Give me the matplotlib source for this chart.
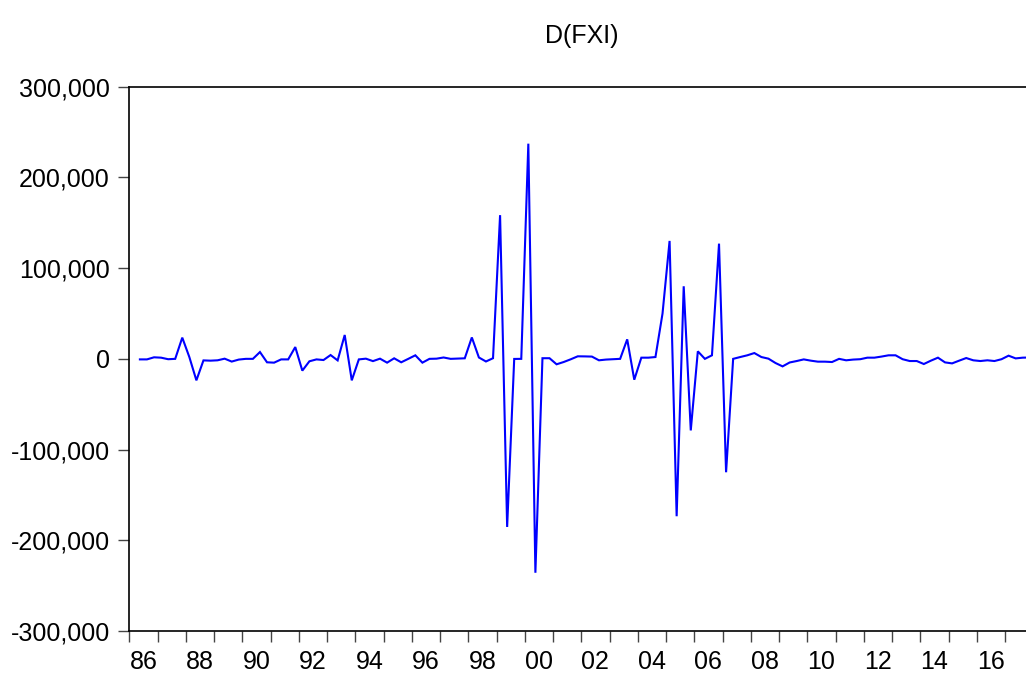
import matplotlib
matplotlib.use("Agg")
import matplotlib.pyplot as plt
from matplotlib.ticker import FuncFormatter, FixedLocator
import numpy as np

plt.rcParams['font.family'] = ['Liberation Sans', 'DejaVu Sans']

title = "D(FXI)"
start_year = 1986
start_quarter = 2  # first observation 1986Q2
# D(FXI), quarterly, in thousands
values_k = [
    -0.6, -0.6, 1.7,                                   # 1986 Q2-Q4
    1.3, -0.4, 0.0, 23.4,                              # 1987
    2.0, -23.7, -1.7, -2.0,                            # 1988
    -1.6, 0.2, -3.0, -0.8,                             # 1989
    0.0, 0.0, 7.5, -3.8,                               # 1990
    -4.2, -0.6, -0.6, 13.0,                            # 1991
    -13.0, -2.7, -0.6, -1.3,                           # 1992
    4.2, -1.7, 26.3, -23.7,                            # 1993
    -0.6, 0.2, -2.5, 0.2,                              # 1994
    -4.2, 0.6, -3.8, 0.0,                              # 1995
    3.9, -4.2, 0.0, 0.2,                               # 1996
    1.5, 0.0, 0.3, 0.6,                                # 1997
    23.6, 1.5, -2.9, 0.7,                              # 1998
    158.4, -185.3, -0.1, 0.0,                          # 1999
    237.2, -235.8, 0.7, 0.7,                           # 2000
    -6.0, -3.5, -0.5, 2.8,                             # 2001
    2.7, 2.5, -1.6, -0.8,                              # 2002
    -0.4, 0.0, 21.5, -23.0,                            # 2003
    1.3, 1.3, 2.0, 49.9,                               # 2004
    130.0, -173.5, 80.0, -78.9,                        # 2005
    8.3, 0.0, 3.9, 127.0,                              # 2006
    -125.0, 0.0, 2.0, 3.9,                             # 2007
    6.4, 2.0, 0.2, -4.6,                               # 2008
    -8.3, -4.0, -2.4, -0.6,                            # 2009
    -2.0, -3.1, -3.1, -3.5,                            # 2010
    0.0, -1.6, -0.8, -0.4,                             # 2011
    1.3, 1.3, 2.5, 3.9,                                # 2012
    3.9, -0.4, -2.4, -2.4,                             # 2013
    -5.7, -2.0, 1.3, -3.9,                             # 2014
    -5.0, -2.0, 0.9, -1.6,                             # 2015
    -2.4, -1.6, -2.4, -0.4,                            # 2016
    3.5, 0.5, 1.3, 1.5,                                # 2017
]
y_ticks = [-300000, -200000, -100000, 0, 100000, 200000, 300000]
x_label_years = list(range(1986, 2017, 2))

values = np.array(values_k) * 1000.0
n = len(values)
q_index = np.arange(n) + (start_quarter - 1)
x = start_year + (q_index + 0.5) / 4.0

fig = plt.figure(figsize=(10.26, 6.73), dpi=100)
W, H = 1026, 673
left_px, right_px, top_px, bottom_px = 129.3, 1033.3, 86.7, 631.0
ax = fig.add_axes([left_px / W, 1 - bottom_px / H,
                   (right_px - left_px) / W, (bottom_px - top_px) / H])

ax.plot(x, values, color='#0000ff', linewidth=1.5, solid_joinstyle='miter')

ax.set_xlim(1986, 2018)
ax.set_ylim(-300000, 300000)

for s in ['left', 'top', 'bottom']:
    ax.spines[s].set_color('black')
    ax.spines[s].set_linewidth(1.2)
ax.spines['right'].set_visible(False)

# y axis
ax.set_yticks(y_ticks)
ax.yaxis.set_major_formatter(FuncFormatter(lambda v, p: f"{int(v):,}"))
ax.tick_params(axis='y', direction='out', length=8, width=1, color='#444444',
               labelsize=18, pad=6)

# x axis: year ticks unlabeled, labels every 2 years centred in the year
ax.xaxis.set_minor_locator(FixedLocator(list(range(1986, 2019))))
ax.xaxis.set_major_locator(FixedLocator([y + 0.5 for y in x_label_years]))
ax.set_xticklabels([f"{y % 100:02d}" for y in x_label_years])
ax.tick_params(axis='x', which='major', length=0, labelsize=18, pad=14)
ax.tick_params(axis='x', which='minor', direction='out', length=8, width=1,
               color='#444444')

fig.text((left_px + right_px) / 2 / W, 1 - 36 / H, title, ha='center',
         va='center', fontsize=18)

fig.savefig('out.png', dpi=100)
